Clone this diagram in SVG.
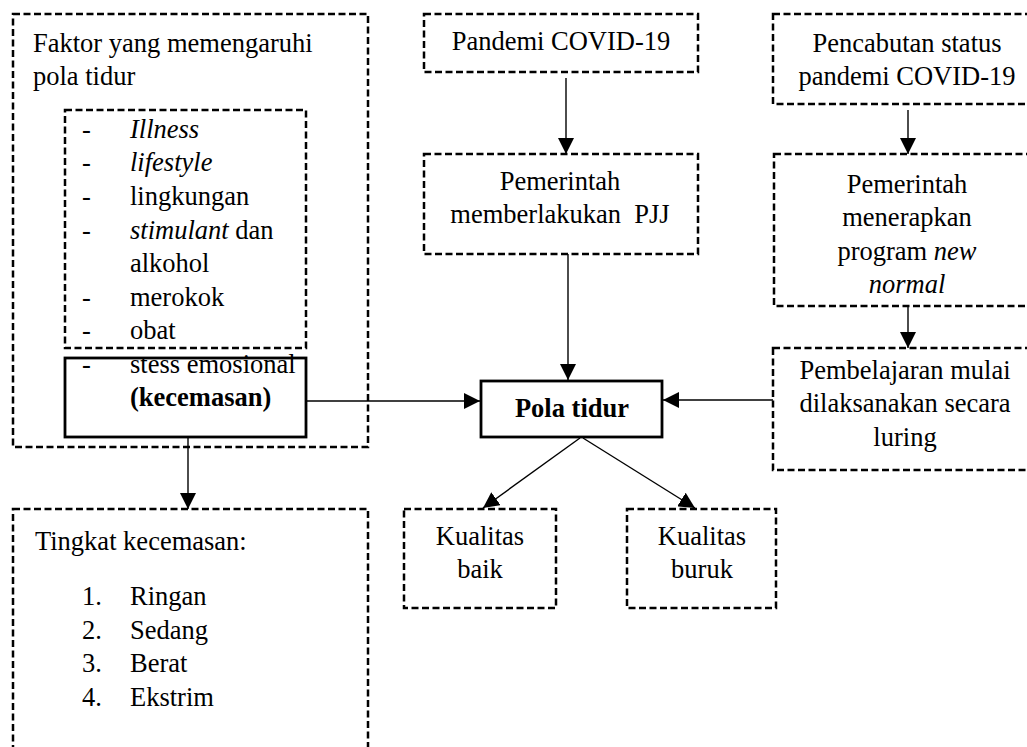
<svg xmlns="http://www.w3.org/2000/svg" width="1027" height="747" viewBox="0 0 1027 747">
<defs>
<style>
.t{font-family:"Liberation Serif","Times New Roman",serif;font-size:26.5px;fill:#000}
.c{text-anchor:middle}
.b{font-weight:bold}
.i{font-style:italic}
.d{fill:none;stroke:#000;stroke-width:2.5;stroke-dasharray:7 3.5}
.s{fill:none;stroke:#000;stroke-width:2.8}
.ln{fill:none;stroke:#000;stroke-width:1.4}
</style>
<marker id="ah" markerUnits="userSpaceOnUse" markerWidth="16" markerHeight="16" refX="16" refY="8" orient="auto" viewBox="0 0 16 16">
<path d="M0,0 L16,8 L0,16 z" fill="#000"/>
</marker>
</defs>
<rect width="1027" height="747" fill="#fff"/>

<g id="faktor">
<rect class="d" x="13" y="14" width="355" height="433"/>
<text class="t" x="33" y="51.5">Faktor yang memengaruhi</text>
<text class="t" x="33" y="85">pola tidur</text>
</g>

<g id="faktor-list">
<rect class="d" x="65" y="110" width="241" height="238"/>
<text class="t" x="82" y="137.5">-</text><text class="t i" x="130" y="137.5">Illness</text>
<text class="t" x="82" y="171">-</text><text class="t i" x="130" y="171">lifestyle</text>
<text class="t" x="82" y="205">-</text><text class="t" x="130" y="205">lingkungan</text>
<text class="t" x="82" y="238.5">-</text><text class="t" x="130" y="238.5"><tspan class="i">stimulant</tspan> dan</text>
<text class="t" x="130" y="272">alkohol</text>
<text class="t" x="82" y="305.5">-</text><text class="t" x="130" y="305.5">merokok</text>
<text class="t" x="82" y="339">-</text><text class="t" x="130" y="339">obat</text>
</g>

<g id="kecemasan">
<rect class="s" x="65" y="358" width="241" height="79"/>
<text class="t" x="82" y="372.5">-</text><text class="t" x="130" y="372.5">stess emosional</text>
<text class="t b" x="130" y="406">(kecemasan)</text>
</g>

<g id="pandemi">
<rect class="d" x="424" y="14" width="274" height="58"/>
<text class="t c" x="561" y="50">Pandemi COVID-19</text>
</g>

<g id="pjj">
<rect class="d" x="424" y="154" width="274" height="100"/>
<text class="t c" x="560" y="190">Pemerintah</text>
<text class="t c" x="560" y="223" xml:space="preserve">memberlakukan  PJJ</text>
</g>

<g id="pola-tidur">
<rect class="s" x="481" y="381" width="181" height="56"/>
<text class="t c b" x="572" y="417">Pola tidur</text>
</g>

<g id="pencabutan">
<rect class="d" x="773" y="14" width="270" height="90"/>
<text class="t c" x="907" y="51.5">Pencabutan status</text>
<text class="t c" x="907" y="84.5">pandemi COVID-19</text>
</g>

<g id="new-normal">
<rect class="d" x="774" y="154" width="270" height="152"/>
<text class="t c" x="907" y="193">Pemerintah</text>
<text class="t c" x="907" y="226">menerapkan</text>
<text class="t c" x="907" y="260">program <tspan class="i">new</tspan></text>
<text class="t c i" x="907" y="293">normal</text>
</g>

<g id="luring">
<rect class="d" x="773" y="348" width="270" height="122"/>
<text class="t c" x="905" y="379">Pembelajaran mulai</text>
<text class="t c" x="905" y="412">dilaksanakan secara</text>
<text class="t c" x="905" y="446">luring</text>
</g>

<g id="kualitas-baik">
<rect class="d" x="404" y="509" width="152" height="99"/>
<text class="t c" x="480" y="545">Kualitas</text>
<text class="t c" x="480" y="578">baik</text>
</g>

<g id="kualitas-buruk">
<rect class="d" x="627" y="509" width="149" height="99"/>
<text class="t c" x="702" y="545">Kualitas</text>
<text class="t c" x="702" y="578">buruk</text>
</g>

<g id="tingkat">
<rect class="d" x="13" y="509" width="355" height="260"/>
<text class="t" x="35" y="550">Tingkat kecemasan:</text>
<text class="t" x="82" y="605">1.</text><text class="t" x="130" y="605">Ringan</text>
<text class="t" x="82" y="638.5">2.</text><text class="t" x="130" y="638.5">Sedang</text>
<text class="t" x="82" y="672">3.</text><text class="t" x="130" y="672">Berat</text>
<text class="t" x="82" y="705.5">4.</text><text class="t" x="130" y="705.5">Ekstrim</text>
</g>

<g id="connectors">
<line class="ln" x1="566" y1="78" x2="566" y2="154" marker-end="url(#ah)"/>
<line class="ln" x1="568" y1="254" x2="568" y2="380" marker-end="url(#ah)"/>
<line class="ln" x1="306" y1="401" x2="480" y2="401" marker-end="url(#ah)"/>
<line class="ln" x1="773" y1="400" x2="663" y2="400" marker-end="url(#ah)"/>
<line class="ln" x1="188" y1="437" x2="188" y2="509" marker-end="url(#ah)"/>
<line class="ln" x1="908" y1="110" x2="908" y2="154" marker-end="url(#ah)"/>
<line class="ln" x1="908" y1="306" x2="908" y2="348" marker-end="url(#ah)"/>
<line class="ln" x1="580" y1="438" x2="483" y2="508" marker-end="url(#ah)"/>
<line class="ln" x1="583" y1="438" x2="695" y2="508" marker-end="url(#ah)"/>
</g>
</svg>
